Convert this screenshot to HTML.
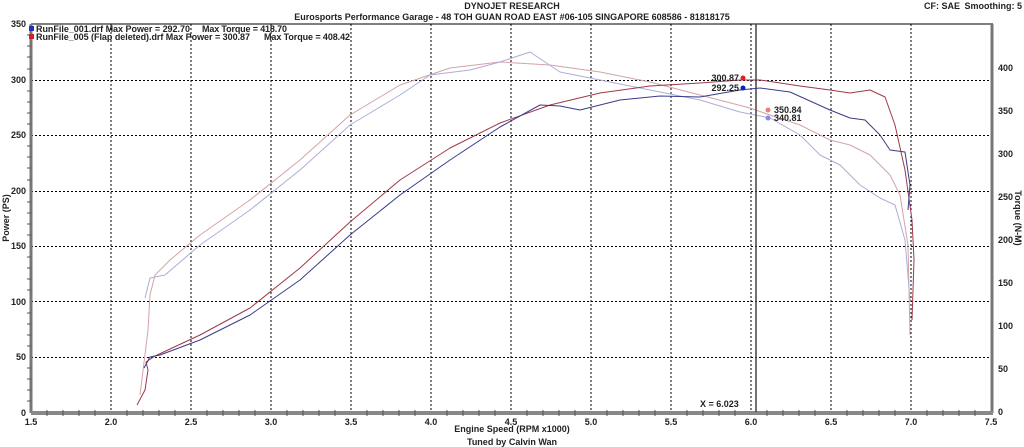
<!DOCTYPE html><html><head><style>body{margin:0;background:#fff}svg{display:block;font-family:"Liberation Sans",Verdana,sans-serif;font-weight:bold}</style></head><body>
<svg width="1024" height="447" xmlns="http://www.w3.org/2000/svg">
<g font-size="9" fill="#222">
<text x="512" y="9" text-anchor="middle">DYNOJET RESEARCH</text>
<text x="512" y="20" text-anchor="middle">Eurosports Performance Garage - 48 TOH GUAN ROAD EAST #06-105 SINGAPORE 608586 - 81818175</text>
<text x="960" y="9" text-anchor="end">CF: SAE</text><text x="1022" y="9" text-anchor="end">Smoothing: 5</text>
<text x="512" y="432" text-anchor="middle">Engine Speed (RPM x1000)</text>
<text x="512" y="445" text-anchor="middle">Tuned by Calvin Wan</text>
<text transform="translate(9,218) rotate(-90)" text-anchor="middle">Power (PS)</text>
<text transform="translate(1015,218) rotate(90)" text-anchor="middle">Torque (N-M)</text>
</g>
<g stroke="#000" stroke-width="1" stroke-dasharray="2,2" fill="none">
<path d="M111 24V412M191 24V412M271 24V412M351 24V412M431 24V412M511 24V412M591 24V412M671 24V412M751 24V412M831 24V412M911 24V412"/>
<path d="M31 80.5H991M31 135.5H991M31 191.5H991M31 246.5H991M31 301.5H991M31 357.5H991"/>
</g>
<path d="M31 24H993" stroke="#000" stroke-width="1"/>
<path d="M31 24V413" stroke="#777" stroke-width="3"/>
<path d="M992 24V413" stroke="#777" stroke-width="3"/>
<path d="M31 413H993" stroke="#888" stroke-width="4"/>
<g stroke="#555" stroke-width="1">
<path d="M27 35H31M27 46H31M27 57H31M27 69H31M27 91H31M27 102H31M27 113H31M27 124H31M27 146H31M27 157H31M27 168H31M27 180H31M27 202H31M27 213H31M27 224H31M27 235H31M27 257H31M27 268H31M27 279H31M27 290H31M27 313H31M27 324H31M27 335H31M27 346H31M27 368H31M27 379H31M27 390H31M27 401H31"/>
<path d="M47 410V416M63 410V416M79 410V416M95 410V416M127 410V416M143 410V416M159 410V416M175 410V416M207 410V416M223 410V416M239 410V416M255 410V416M287 410V416M303 410V416M319 410V416M335 410V416M367 410V416M383 410V416M399 410V416M415 410V416M447 410V416M463 410V416M479 410V416M495 410V416M527 410V416M543 410V416M559 410V416M575 410V416M607 410V416M623 410V416M639 410V416M655 410V416M687 410V416M703 410V416M719 410V416M735 410V416M767 410V416M783 410V416M799 410V416M815 410V416M847 410V416M863 410V416M879 410V416M895 410V416M927 410V416M943 410V416M959 410V416M975 410V416"/>
</g>
<g font-size="9" fill="#222">
<text x="26" y="27" text-anchor="end">350</text><text x="26" y="83" text-anchor="end">300</text><text x="26" y="138" text-anchor="end">250</text><text x="26" y="194" text-anchor="end">200</text><text x="26" y="249" text-anchor="end">150</text><text x="26" y="305" text-anchor="end">100</text><text x="26" y="360" text-anchor="end">50</text><text x="26" y="416" text-anchor="end">0</text>
<text x="998" y="71">400</text><text x="998" y="114">350</text><text x="998" y="157">300</text><text x="998" y="200">250</text><text x="998" y="243">200</text><text x="998" y="286">150</text><text x="998" y="329">100</text><text x="998" y="372">50</text><text x="998" y="415">0</text>
<text x="31" y="425" text-anchor="middle">1.5</text><text x="111" y="425" text-anchor="middle">2.0</text><text x="191" y="425" text-anchor="middle">2.5</text><text x="271" y="425" text-anchor="middle">3.0</text><text x="351" y="425" text-anchor="middle">3.5</text><text x="431" y="425" text-anchor="middle">4.0</text><text x="511" y="425" text-anchor="middle">4.5</text><text x="591" y="425" text-anchor="middle">5.0</text><text x="671" y="425" text-anchor="middle">5.5</text><text x="751" y="425" text-anchor="middle">6.0</text><text x="831" y="425" text-anchor="middle">6.5</text><text x="911" y="425" text-anchor="middle">7.0</text><text x="991" y="425" text-anchor="middle">7.5</text>
<text x="700" y="407">X = 6.023</text>
</g>
<g fill="none" stroke-width="1" stroke-linejoin="round">
<path stroke="#d4a3a8" d="M140 395L148 330L150 295L155 275L170 260L200 235L250 200L300 160L350 115L400 85L450 68L500 62L550 65L600 72L650 82L700 95L750 108L770 115L800 125L830 140L850 145L870 155L890 175L900 195L908 245L910 335"/>
<path stroke="#b0acd8" d="M145 298L150 278L165 275L200 245L250 210L300 170L350 125L400 95L430 75L470 70L500 62L530 52L560 72L600 80L650 90L700 100L740 112L770 118L800 135L820 155L840 165L860 185L880 198L895 205L905 240L910 300"/>
<path stroke="#a0384a" d="M137 405L145 390L148 370L146 362L155 356L200 335L250 308L300 268L350 222L400 180L450 148L500 123L550 105L600 93L650 86L700 83L740 80L760 80L800 86L830 90L850 93L870 90L885 97L895 125L905 170L912 220L914 260L912 320"/>
<path stroke="#3a3c8a" d="M144 368L150 357L160 355L200 340L250 315L300 280L350 235L400 195L450 160L500 127L540 105L560 106L580 110L620 100L660 96L700 97L740 90L760 88L790 92L810 101L830 110L850 118L865 120L880 135L890 150L905 152L910 185L908 210"/>
</g>
<path d="M756 24V412" stroke="#444" stroke-width="1.5"/>
<g font-size="9" fill="#222">
<circle cx="743" cy="78" r="2.5" fill="#e02020"/><text x="739" y="81" text-anchor="end">300.87</text>
<circle cx="743" cy="88" r="2.5" fill="#1020c0"/><text x="739" y="91" text-anchor="end">292.25</text>
<circle cx="768" cy="110" r="2.5" fill="#e88080"/><text x="774" y="113">350.84</text>
<circle cx="768" cy="118" r="2.5" fill="#8888ee"/><text x="774" y="121">340.81</text>
<rect x="29" y="26" width="5" height="5" fill="#2030c0"/><rect x="29" y="34" width="5" height="5" fill="#d02020"/>
<text x="36" y="32" textLength="154">RunFile_001.drf Max Power = 292.70</text><text x="202" y="32" textLength="85">Max Torque = 418.70</text>
<text x="36" y="40" textLength="214">RunFile_005 (Flap deleted).drf Max Power = 300.87</text><text x="264" y="40" textLength="86">Max Torque = 408.42</text>
</g>
</svg></body></html>
